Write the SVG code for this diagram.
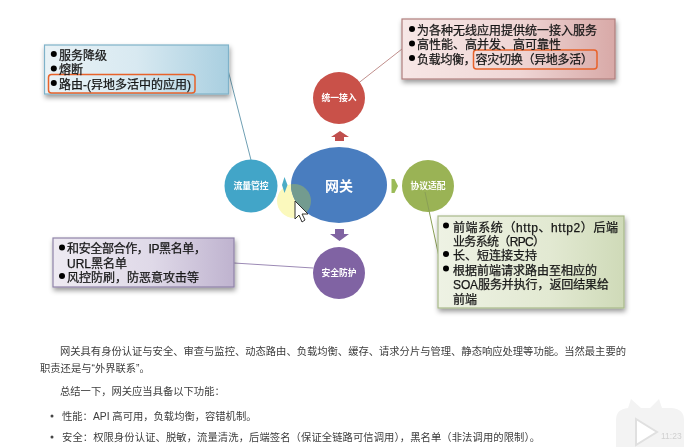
<svg xmlns="http://www.w3.org/2000/svg" width="684" height="447" viewBox="0 0 684 447">
<style>
text{font-family:"Liberation Sans","Noto Sans CJK SC",sans-serif}
.t{font-size:12px;fill:#161616;stroke:#161616;stroke-width:.25}
.c{font-size:8.8px;font-weight:700;fill:#fff;text-anchor:middle}
.b{font-size:10.3px;fill:#3c3c3c}
.box{stroke-width:1.2;filter:url(#sh)}
.hl{fill:none;stroke:#e8622a;stroke-width:1.5}
.ln{fill:none;stroke-width:1}
</style>
<defs>
<filter id="soft" filterUnits="userSpaceOnUse" x="0" y="0" width="684" height="447"><feGaussianBlur stdDeviation="0.4"/></filter>
<filter id="sh" x="-10%" y="-20%" width="120%" height="150%"><feDropShadow dx="1" dy="3" stdDeviation="2.5" flood-color="#000" flood-opacity=".4"/></filter>
<linearGradient id="gb"><stop offset="0" stop-color="#e9f2f6"/><stop offset=".5" stop-color="#d8e9f1"/><stop offset="1" stop-color="#a9cfe0"/></linearGradient>
<linearGradient id="gr"><stop offset="0" stop-color="#f7e7e6"/><stop offset=".55" stop-color="#efd6d5"/><stop offset="1" stop-color="#d8a9a7"/></linearGradient>
<linearGradient id="gp"><stop offset="0" stop-color="#eeeaf2"/><stop offset=".55" stop-color="#dfd9e8"/><stop offset="1" stop-color="#bfb3cf"/></linearGradient>
<linearGradient id="gg"><stop offset="0" stop-color="#eef2e4"/><stop offset=".6" stop-color="#e2e9d2"/><stop offset="1" stop-color="#cfdab8"/></linearGradient>
<clipPath id="ov"><ellipse cx="339" cy="185" rx="48" ry="38"/></clipPath>
</defs>
<rect width="684" height="447" fill="#fff"/>
<g filter="url(#soft)">
<circle cx="294" cy="201" r="17" fill="#fbf9bd"/>
<g id="connectors">
<path class="ln" d="M228 70L251 160" stroke="#6f9fb3"/>
<path class="ln" d="M402 49L347 92" stroke="#c08f8c"/>
<path class="ln" d="M234 263L313 268" stroke="#9c8ab5" stroke-width="1.3"/>
<path d="M340 131L349 137H344V141H335V137H331Z" fill="#c0504d"/>
<path d="M391.500 179H394.500L398 186L394.500 193H391.500Z" fill="#9bbb59"/>
<path d="M335 229H344V234H349L339.500 241L330 234H335Z" fill="#8064a2"/>
<path d="M284.500 177L287.500 185L284.500 193L282 185Z" fill="#4bacc6"/>
</g>
<g id="node-flow">
<circle cx="251" cy="186" r="26.500" fill="#43a5c8"/>
<text class="c" x="251" y="189">流量管控</text>
</g>
<g id="node-gateway">
<ellipse cx="339" cy="185" rx="48" ry="38" fill="#4a7dbf"/>
<circle cx="294" cy="201" r="17" fill="#739b8f" clip-path="url(#ov)"/>
<text x="339" y="191" text-anchor="middle" font-size="14" font-weight="700" fill="#fff">网关</text>
</g>
<g id="node-access">
<circle cx="339" cy="98" r="26" fill="#c9514a"/>
<text class="c" x="339" y="101">统一接入</text>
</g>
<g id="node-protocol">
<circle cx="428" cy="186" r="26" fill="#9ab354"/>
<text class="c" x="428" y="189">协议适配</text>
<path class="ln" d="M425 192L439 257" stroke="#8a9f55"/>
</g>
<g id="node-security">
<circle cx="339" cy="273" r="26" fill="#8063a3"/>
<text class="c" x="339" y="276">安全防护</text>
</g>
<g id="box-flow">
<rect class="box" x="44.500" y="45" width="184" height="49" fill="url(#gb)" stroke="#7fb2c9"/>
<rect class="hl" x="48.500" y="74.500" width="146.500" height="18.500" rx="3"/>
<circle cx="53.800" cy="54" r="3"/><circle cx="53.800" cy="68.500" r="3"/><circle cx="53.800" cy="83" r="3"/>
<text class="t" x="59" y="59.500">服务降级</text>
<text class="t" x="59" y="74">熔断</text>
<text class="t" x="59" y="88.500" textLength="132">路由-(异地多活中的应用)</text>
</g>
<g id="box-access">
<rect class="box" x="402" y="19" width="213" height="60" fill="url(#gr)" stroke="#b07f7d"/>
<rect class="hl" x="473.500" y="50" width="123.500" height="19" rx="3"/>
<circle cx="412" cy="29" r="3"/><circle cx="412" cy="43.500" r="3"/><circle cx="412" cy="58" r="3"/>
<text class="t" x="417" y="34.500">为各种无线应用提供统一接入服务</text>
<text class="t" x="417" y="49">高性能、高并发、高可靠性</text>
<text class="t" x="417" y="63.500" textLength="176">负载均衡，容灾切换（异地多活）</text>
</g>
<g id="box-security">
<rect class="box" x="53" y="238" width="181" height="49" fill="url(#gp)" stroke="#8f83a8"/>
<circle cx="62" cy="247.500" r="3"/><circle cx="62" cy="276" r="3"/>
<text class="t" x="67" y="253" textLength="139">和安全部合作，IP黑名单，</text>
<text class="t" x="67" y="267.500">URL黑名单</text>
<text class="t" x="67" y="281.500">风控防刷，防恶意攻击等</text>
</g>
<g id="box-protocol">
<rect class="box" x="438" y="216" width="186" height="92" fill="url(#gg)" stroke="#a9b98a"/>
<circle cx="446" cy="225.500" r="3"/><circle cx="446" cy="254" r="3"/><circle cx="446" cy="268.500" r="3"/>
<text class="t" x="453" y="231.500" textLength="165">前端系统（http、http2）后端</text>
<text class="t" x="453" y="245.500" textLength="92">业务系统（RPC）</text>
<text class="t" x="453" y="260">长、短连接支持</text>
<text class="t" x="453" y="274.500">根据前端请求路由至相应的</text>
<text class="t" x="453" y="289" textLength="156">SOA服务并执行，返回结果给</text>
<text class="t" x="453" y="303.500">前端</text>
</g>
<g id="doc">
<text class="b" x="60" y="355" textLength="566">网关具有身份认证与安全、审查与监控、动态路由、负载均衡、缓存、请求分片与管理、静态响应处理等功能。当然最主要的</text>
<text class="b" x="40" y="372">职责还是与“外界联系”。</text>
<text class="b" x="60" y="395">总结一下，网关应当具备以下功能：</text>
<circle cx="52" cy="416" r="1.500" fill="#444"/>
<text class="b" x="62" y="420">性能：API 高可用，负载均衡，容错机制。</text>
<circle cx="52" cy="437" r="1.500" fill="#444"/>
<text class="b" x="62" y="441" textLength="478">安全：权限身份认证、脱敏，流量清洗，后端签名（保证全链路可信调用），黑名单（非法调用的限制）。</text>
</g>
<g id="player">
<path d="M631 399L641 408H650L659 399L662 408H672Q684 409 684 420V447H616V420Q616 409 628 408Z" fill="#f3f3f3"/>
<path d="M636 419L657 432L636 445Z" fill="#fff" stroke="#e0e0e0" stroke-width="2"/>
<text x="661" y="439" font-size="8.500" fill="#d0d0d0">11:23</text>
</g>
<path id="cursor" d="M295 201L295 219L299 215L302 222L305 220L302 214L308 214Z" fill="#fff" stroke="#333" stroke-width="1"/>
</g>
</svg>
